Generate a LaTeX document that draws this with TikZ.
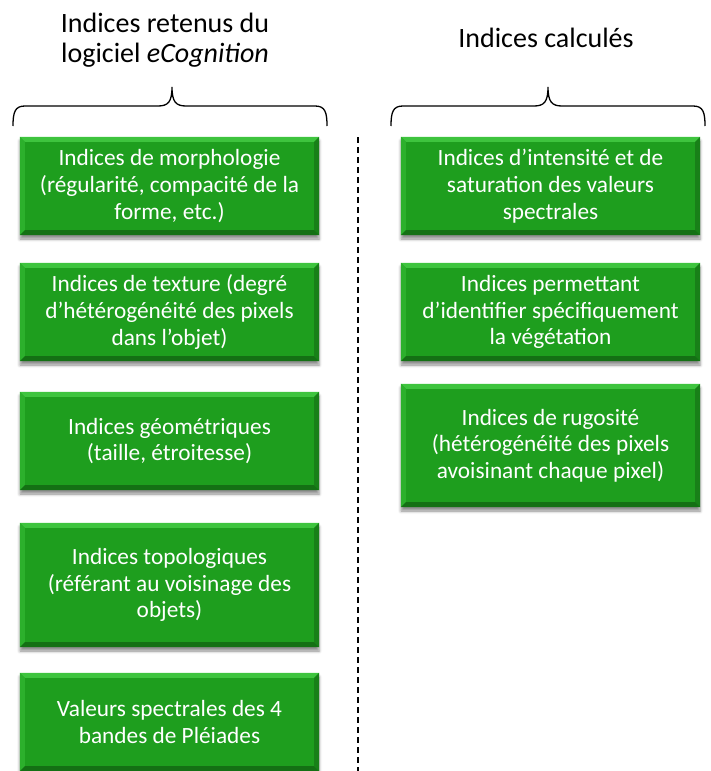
\documentclass[tikz,border=0pt]{standalone}
\usepackage{fontspec}
\setmainfont{Carlito}
\usetikzlibrary{shadows.blur}
\definecolor{boxgreen}{RGB}{30,158,30}
\definecolor{bevtop}{RGB}{62,196,62}
\definecolor{bevleft}{RGB}{44,176,44}
\definecolor{bevright}{RGB}{24,128,24}
\definecolor{bevbot}{RGB}{20,112,20}
\tikzset{
  gbox/.style={fill=boxgreen, minimum width=299pt, align=center, text=white, inner sep=0pt,
    blur shadow={shadow xshift=0pt, shadow yshift=-4pt, shadow blur radius=3pt, shadow opacity=45}},
  btext/.style={align=center, text=white, font=\fontsize{23.3}{26.7}\selectfont},
  hdr/.style={align=center, font=\fontsize{28}{29.5}\selectfont, inner sep=0pt},
  bracepath/.style={line width=1.3pt, black},
  divider/.style={line width=1.4pt, dash pattern=on 6pt off 4pt}
}
\newcommand\bevel[1]{%
  \fill[bevtop] (#1.north west) -- (#1.north east) -- ([xshift=-5pt,yshift=-5pt]#1.north east) -- ([xshift=5pt,yshift=-5pt]#1.north west) -- cycle;
  \fill[bevleft] (#1.north west) -- ([xshift=5pt,yshift=-5pt]#1.north west) -- ([xshift=5pt,yshift=5pt]#1.south west) -- (#1.south west) -- cycle;
  \fill[bevright] (#1.north east) -- ([xshift=-5pt,yshift=-5pt]#1.north east) -- ([xshift=-5pt,yshift=5pt]#1.south east) -- (#1.south east) -- cycle;
  \fill[bevbot] (#1.south west) -- ([xshift=5pt,yshift=5pt]#1.south west) -- ([xshift=-5pt,yshift=5pt]#1.south east) -- (#1.south east) -- cycle;
}
\newcommand\boxtext[2]{\node[btext] at (#1.center) {#2};}
\begin{document}
\begin{tikzpicture}[x=1pt,y=-1pt]
\useasboundingbox (0,0) rectangle (711,771);
% headers
\node[hdr] (hL) at (165,40) {Indices retenus du\\logiciel \textit{eCognition}};
\node[hdr] (hR) at (546,38) {Indices calculés};
% braces
\coordinate (bL1) at (13,126); \coordinate (bL2) at (327,126); \coordinate (bLt) at (172,87);
\coordinate (bR1) at (391,126); \coordinate (bR2) at (705,126); \coordinate (bRt) at (548,87);
\draw[bracepath] (bL1) .. controls (13,112) and (15,106) .. (25,106) -- (158,106)
  .. controls (168,106) and (172,102) .. (bLt) .. controls (172,102) and (176,106) .. (186,106)
  -- (315,106) .. controls (325,106) and (327,112) .. (bL2);
\draw[bracepath] (bR1) .. controls (391,112) and (393,106) .. (403,106) -- (534,106)
  .. controls (544,106) and (548,102) .. (bRt) .. controls (548,102) and (552,106) .. (562,106)
  -- (693,106) .. controls (703,106) and (705,112) .. (bR2);
% divider
\coordinate (d1) at (358,137); \coordinate (d2) at (358,771);
\draw[divider] (d1) -- (d2);
% left boxes
\node[gbox, minimum height=98pt] (L1) at (169.5,186) {};
\node[gbox, minimum height=98pt] (L2) at (169.5,312) {};
\node[gbox, minimum height=98pt] (L3) at (169.5,441) {};
\node[gbox, minimum height=124pt] (L4) at (169.5,585) {};
\node[gbox, minimum height=98pt] (L5) at (169.5,722) {};
% right boxes
\node[gbox, minimum height=98pt] (R1) at (550.5,186) {};
\node[gbox, minimum height=98pt] (R2) at (550.5,312) {};
\node[gbox, minimum height=123pt] (R3) at (550.5,445.5) {};
\bevel{L1}\bevel{L2}\bevel{L3}\bevel{L4}\bevel{L5}\bevel{R1}\bevel{R2}\bevel{R3}
\boxtext{L1}{Indices de morphologie\\(régularité, compacité de la\\forme, etc.)}
\boxtext{L2}{Indices de texture (degré\\d’hétérogénéité des pixels\\dans l’objet)}
\boxtext{L3}{Indices géométriques\\(taille, étroitesse)}
\boxtext{L4}{Indices topologiques\\(référant au voisinage des\\objets)}
\boxtext{L5}{Valeurs spectrales des 4\\bandes de Pléiades}
\boxtext{R1}{Indices d’intensité et de\\saturation des valeurs\\spectrales}
\boxtext{R2}{Indices permettant\\d’identifier spécifiquement\\la végétation}
\boxtext{R3}{Indices de rugosité\\(hétérogénéité des pixels\\avoisinant chaque pixel)}
\end{tikzpicture}
\end{document}
